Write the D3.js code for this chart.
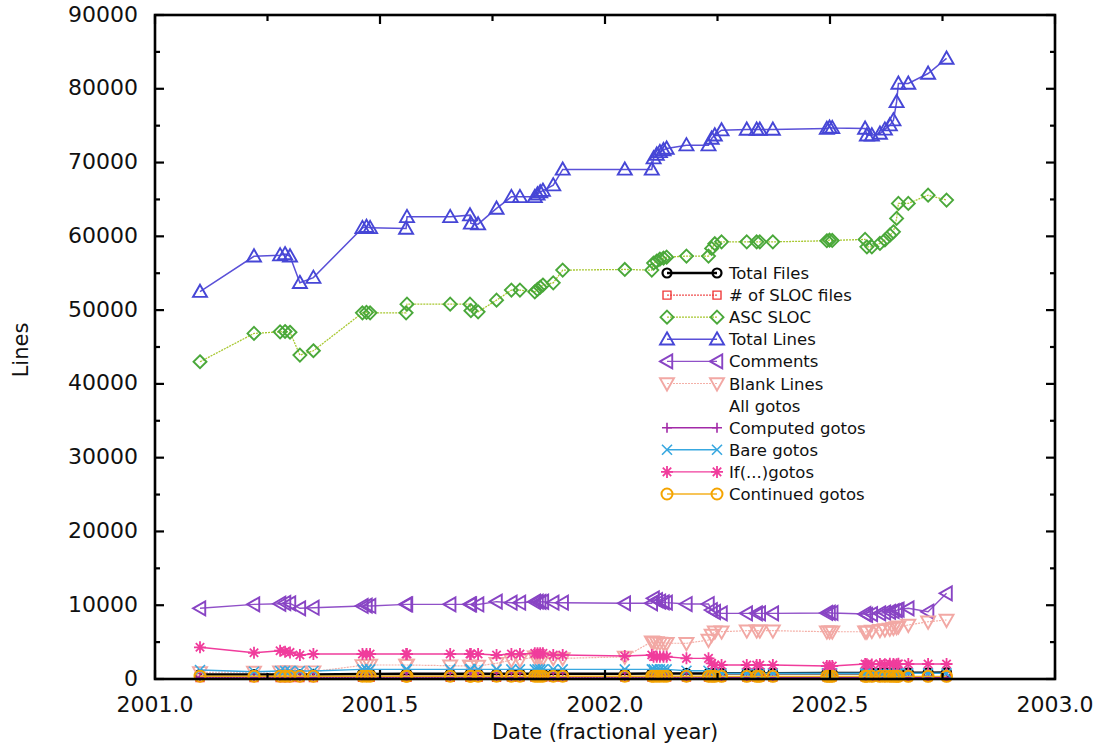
<!DOCTYPE html>
<html><head><meta charset="utf-8">
<script src="https://cdn.jsdelivr.net/npm/d3@7"></script>
<style>html,body{margin:0;padding:0;background:#fff;}svg{display:block;font-family:"DejaVu Sans",Arial,sans-serif;}</style>
</head><body>
<script>
const dates = [2001.100,2001.220,2001.278,2001.289,2001.300,2001.322,2001.352,2001.461,2001.470,2001.478,
2001.558,2001.560,2001.656,2001.700,2001.702,2001.718,2001.759,2001.792,2001.811,2001.844,
2001.850,2001.856,2001.862,2001.885,2001.906,2002.044,2002.104,2002.108,2002.115,2002.122,
2002.130,2002.137,2002.181,2002.230,2002.237,2002.244,2002.259,2002.315,2002.337,2002.344,
2002.373,2002.493,2002.499,2002.505,2002.578,2002.582,2002.593,2002.611,2002.622,2002.633,
2002.641,2002.648,2002.652,2002.674,2002.718,2002.759];

const totalFiles = [600,600,600,600,600,600,620,680,680,680,700,700,700,700,700,700,700,710,710,710,
710,710,710,720,720,720,740,740,740,740,740,740,750,760,780,780,780,780,780,780,
780,790,790,790,800,800,800,800,810,810,820,830,840,840,850,860];
const slocFiles = [200,200,200,200,200,200,210,230,230,230,240,240,240,240,240,240,240,250,250,250,
250,250,250,250,250,250,260,260,260,260,260,260,270,270,280,280,280,280,280,280,
280,290,290,290,300,300,300,300,300,300,310,310,320,320,320,330];
const ascSloc = [43000,46840,47060,47100,47000,43900,44490,49630,49700,49630,49630,50810,50810,50810,49930,49770,51350,52710,52710,52480,
52800,53100,53400,53700,55420,55510,55420,56370,56640,56910,57050,57180,57320,57320,58360,59000,59250,59250,59250,59250,
59250,59400,59490,59450,59580,58580,58580,59040,59500,60160,60610,62430,64460,64460,65580,64910];
const totalLines = [52500,57300,57450,57600,57300,53700,54400,61150,61300,61150,61070,62640,62640,62870,61750,61650,63780,65350,65350,65350,
65700,66000,66200,66940,69070,69070,69070,70600,71100,71450,71700,71900,72360,72360,73270,73710,74390,74490,74490,74490,
74490,74600,74760,74700,74620,73710,73710,73940,74500,75070,75750,78220,80720,80720,82070,84110];
const comments = [9580,10120,10200,10300,10250,9580,9660,9900,9950,9900,10120,10120,10120,10120,10120,10100,10480,10340,10340,10470,
10500,10450,10470,10340,10340,10260,10260,10930,10700,10500,10400,10350,10160,10160,9350,9080,8900,8900,8900,8900,
8900,8950,8980,8950,8810,8700,8800,8900,9000,9100,9200,9300,9400,9580,9120,11610];
const blankLines = [900,950,1000,1000,1000,950,1000,1850,1900,1900,1900,1900,1800,1760,1760,1760,2130,2570,2570,3020,
3020,2900,2800,2800,2800,3000,5050,5000,4950,4900,4850,4850,4840,5280,5960,6410,6410,6550,6550,6550,
6550,6410,6410,6410,6400,6400,6500,6600,6700,6800,6900,7000,7100,7320,7760,8000];
const computedGotos = [250,250,250,250,250,250,250,260,260,260,260,260,260,260,260,260,260,260,260,260,
260,260,260,260,260,260,260,260,260,260,260,260,250,250,240,240,240,240,240,240,
240,240,240,240,240,240,240,240,240,240,240,240,240,240,240,240];
const bareGotos = [1220,990,1080,1080,1080,1080,1080,1300,1300,1300,1300,1300,1300,1300,1300,1300,1300,1300,1300,1300,
1300,1300,1300,1300,1300,1300,1310,1310,1310,1310,1310,1310,1120,1120,850,770,770,770,770,770,
770,770,770,770,770,770,770,770,770,770,770,770,770,770,770,770];
const ifGotos = [4300,3560,3830,3700,3600,3250,3390,3390,3390,3390,3390,3390,3390,3390,3390,3390,3250,3390,3390,3480,
3480,3480,3480,3250,3250,3120,3250,3020,3020,3020,3020,3020,2800,2800,2130,1900,1900,1900,1900,1900,
1900,1760,1760,1760,2030,2000,1980,2050,2000,2080,2030,1990,2060,2030,2030,2030];
const continuedGotos = [380,380,380,380,380,380,380,380,380,380,380,380,380,380,380,380,380,380,380,380,
380,380,380,380,380,380,380,380,380,380,380,380,370,370,360,360,360,360,360,360,
360,360,360,360,360,360,360,360,360,360,360,360,360,360,360,360];

const seriesNames = ["Total Files","# of SLOC files","ASC SLOC","Total Lines","Comments","Blank Lines","All gotos","Computed gotos","Bare gotos","If(...)gotos","Continued gotos"];
const xTicks = [2001.0,2001.5,2002.0,2002.5,2003.0];
const xMinorTicks = [2001.25,2001.75,2002.25,2002.75];
const yTicks = [0,10000,20000,30000,40000,50000,60000,70000,80000,90000];
const yMinorTicks = [5000,15000,25000,35000,45000,55000,65000,75000,85000];

const W = 1102, H = 749;
const L = 155, R = 1055, T = 15, B = 679;
const svg = d3.select("body").append("svg").attr("width", W).attr("height", H);
const x = d3.scaleLinear().domain([2001, 2003]).range([L, R]);
const y = d3.scaleLinear().domain([0, 90000]).range([B, T]);

function shape(type, s) {
  switch (type) {
    case "circle": return `M${-s},0A${s},${s} 0 1,0 ${s},0A${s},${s} 0 1,0 ${-s},0Z`;
    case "square": return `M${-s},${-s}H${s}V${s}H${-s}Z`;
    case "diamond": return `M0,${-s}L${s},0L0,${s}L${-s},0Z`;
    case "up": return `M0,${-s}L${s},${s*0.75}L${-s},${s*0.75}Z`;
    case "down": return `M0,${s}L${s},${-s*0.75}L${-s},${-s*0.75}Z`;
    case "left": return `M${-s},0L${s*0.75},${-s}L${s*0.75},${s}Z`;
    case "plus": return `M${-s},0H${s}M0,${-s}V${s}`;
    case "x": return `M${-s},${-s}L${s},${s}M${-s},${s}L${s},${-s}`;
    case "star": { const a = s*0.7; return `M${-s},0H${s}M0,${-s}V${s}M${-a},${-a}L${a},${a}M${-a},${a}L${a},${-a}`; }
  }
  return "";
}

const series = [
  {name: seriesNames[0], values: totalFiles, color: "#000000", line: "#000000", lw: 2.6, m: "circle", ms: 4.5, mw: 2.2},
  {name: seriesNames[1], values: slocFiles, color: "#f03a3a", line: "#f05050", lw: 1.2, m: "square", ms: 4, mw: 1.4, dash: "2,1"},
  {name: seriesNames[2], values: ascSloc, color: "#4aa83a", line: "#a8c830", lw: 1.3, m: "diamond", ms: 6.5, mw: 1.9, dash: "2,1"},
  {name: seriesNames[3], values: totalLines, color: "#4646d6", line: "#5a50d8", lw: 1.5, m: "up", ms: 7, mw: 1.9},
  {name: seriesNames[4], values: comments, color: "#8844c4", line: "#9050c8", lw: 1.4, m: "left", ms: 7, mw: 1.9},
  {name: seriesNames[5], values: blankLines, color: "#f2a8a4", line: "#f4b0a8", lw: 1.2, m: "down", ms: 7, mw: 1.9, dash: "2,1"},
  {name: seriesNames[6], values: null},
  {name: seriesNames[7], values: computedGotos, color: "#a22aa8", line: "#a22aa8", lw: 1.4, m: "plus", ms: 5, mw: 1.6},
  {name: seriesNames[8], values: bareGotos, color: "#38a8e0", line: "#38a8e0", lw: 1.4, m: "x", ms: 5, mw: 1.6},
  {name: seriesNames[9], values: ifGotos, color: "#f03c9c", line: "#f03c9c", lw: 1.4, m: "star", ms: 6, mw: 1.8},
  {name: seriesNames[10], values: continuedGotos, color: "#f4a400", line: "#f4b020", lw: 1.4, m: "circle", ms: 5.5, mw: 2}
];

const plot = svg.append("g");
const lineGen = d3.line().x(d => x(d[0])).y(d => y(d[1]));
series.forEach(s => {
  if (!s.values) return;
  const pts = dates.map((d, i) => [d, s.values[i]]);
  const g = plot.append("g");
  g.append("path").attr("d", lineGen(pts)).attr("fill", "none")
    .attr("stroke", s.line).attr("stroke-width", s.lw).attr("stroke-dasharray", s.dash || null);
  g.selectAll("path.mk").data(pts).enter().append("path").attr("class", "mk")
    .attr("d", shape(s.m, s.ms))
    .attr("transform", d => `translate(${x(d[0])},${y(d[1])})`)
    .attr("fill", "none").attr("stroke", s.color).attr("stroke-width", s.mw);
});

const ax = svg.append("g");
ax.append("rect").attr("x", L).attr("y", T).attr("width", R - L).attr("height", B - T)
  .attr("fill", "none").attr("stroke", "#000").attr("stroke-width", 2.6);
const tk = (x1, y1, x2, y2) => ax.append("line").attr("x1", x1).attr("y1", y1).attr("x2", x2).attr("y2", y2).attr("stroke", "#000").attr("stroke-width", 2.2);
yTicks.forEach(v => { tk(L, y(v), L + 9, y(v)); tk(R, y(v), R - 9, y(v)); });
yMinorTicks.forEach(v => { tk(L, y(v), L + 5, y(v)); tk(R, y(v), R - 5, y(v)); });
xTicks.forEach(v => { tk(x(v), B, x(v), B - 9); tk(x(v), T, x(v), T + 9); });
xMinorTicks.forEach(v => { tk(x(v), B, x(v), B - 6); tk(x(v), T, x(v), T + 6); });

const fmtY = d3.format("d");
ax.selectAll("text.yl").data(yTicks).enter().append("text")
  .attr("x", L - 17).attr("y", d => y(d) + 6.5).attr("text-anchor", "end")
  .attr("font-size", 22).attr("fill", "#111").text(d => fmtY(d));
ax.selectAll("text.xl").data(xTicks).enter().append("text")
  .attr("x", d => x(d)).attr("y", 712).attr("text-anchor", "middle")
  .attr("font-size", 22).attr("fill", "#111").text(d => d.toFixed(1));
svg.append("text").attr("x", 605).attr("y", 739).attr("text-anchor", "middle")
  .attr("font-size", 21).attr("fill", "#111").text("Date (fractional year)");
svg.append("text").attr("transform", "translate(28,350) rotate(-90)").attr("text-anchor", "middle")
  .attr("font-size", 21).attr("fill", "#111").text("Lines");

const lg = svg.append("g");
series.forEach((s, i) => {
  const cy = 273 + i * 22.1;
  if (s.values) {
    lg.append("line").attr("x1", 667).attr("x2", 717).attr("y1", cy).attr("y2", cy)
      .attr("stroke", s.line).attr("stroke-width", s.lw).attr("stroke-dasharray", s.dash || null);
    [667, 717].forEach(px => lg.append("path").attr("d", shape(s.m, s.ms))
      .attr("transform", `translate(${px},${cy})`).attr("fill", "none")
      .attr("stroke", s.color).attr("stroke-width", s.mw));
  }
  lg.append("text").attr("x", 729).attr("y", cy + 6).attr("font-size", 16.5).attr("fill", "#111").text(s.name);
});
</script>
</body></html>
